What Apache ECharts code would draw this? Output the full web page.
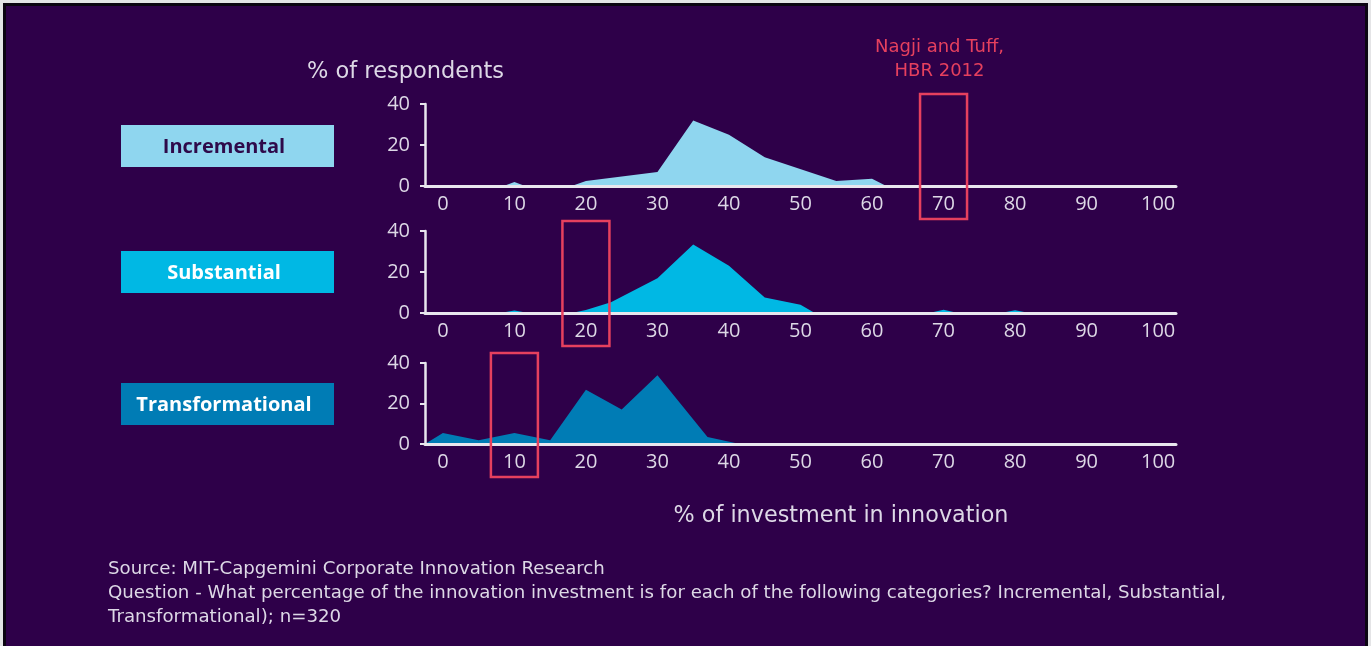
<!DOCTYPE html>
<html>
<head>
<meta charset="utf-8">
<script src="https://cdn.jsdelivr.net/npm/echarts@6/dist/echarts.min.js"></script>
<style>
  html, body { margin: 0; padding: 0; background: #e4e4e6; width: 1371px; height: 646px; overflow: hidden; }
  #frame { position: absolute; left: 3px; top: 3px; width: 1359px; height: 660px; background: #2e0049; border: 3px solid #0c0512; }
  #chart { position: absolute; left: 0; top: 0; width: 1371px; height: 646px; }
</style>
</head>
<body>
<div id="frame"></div>
<div id="chart"></div>
<script>
// ---------- data ----------
const xTicks = [0, 10, 20, 30, 40, 50, 60, 70, 80, 90, 100];
const yTicks = [0, 20, 40];
const categories = ['Incremental', 'Substantial', 'Transformational'];

const incrementalX = [-2.5, 8.5, 10, 11.5, 18, 20, 30, 35, 40, 45, 55, 60, 62, 102.5];
const incrementalY = [0, 0, 2, 0, 0, 2.4, 6.8, 32, 25, 14, 2.4, 3.5, 0, 0];

const substantialX = [-2.5, 8, 10, 12, 18, 20, 23.5, 30, 35, 40, 45, 50, 52, 58.5, 60, 61.5, 68, 70, 72, 78, 80, 82, 102.5];
const substantialY = [0, 0, 1.2, 0, 0, 1.5, 5.3, 17, 33.4, 23, 7.6, 4, 0, 0, 0.5, 0, 0, 1.6, 0, 0, 1.3, 0, 0];

const transformationalX = [-2.5, 0, 5, 10, 15, 20, 25, 30, 37, 41.5, 102.5];
const transformationalY = [0, 5.4, 1.8, 5.4, 1.8, 26.8, 17, 33.9, 3.5, 0, 0];

const highlightValues = [70, 20, 10];
const annotationText = 'Nagji and Tuff,\nHBR 2012';
const yAxisTitle = '% of respondents';
const xAxisTitle = '% of investment in innovation';
const sourceLines = [
  'Source: MIT-Capgemini Corporate Innovation Research',
  'Question - What percentage of the innovation investment is for each of the following categories? Incremental, Substantial,',
  'Transformational); n=320'
];

// ---------- styles ----------
const FONT = '"Open Sans", "Noto Sans", sans-serif';
const WFONT = '"DejaVu Sans", "Open Sans", sans-serif';
const TEXT = '#ddd8e6';
const AXIS = '#e8e6ee';
const RED = '#e6405e';
const colors = ['#8fd6ef', '#00b8e4', '#007cb5'];
const labelText = ['#2e0a4a', '#ffffff', '#ffffff'];
const grids = [
  { left: 425, width: 751, top: 104, height: 82 },
  { left: 425, width: 751, top: 231, height: 82 },
  { left: 425, width: 751, top: 363, height: 81 }
];
const labelBoxCenters = [146, 272, 404];

const seriesX = [incrementalX, substantialX, transformationalX];
const seriesY = [incrementalY, substantialY, transformationalY];

const chart = echarts.init(document.getElementById('chart'), null, { renderer: 'canvas' });

const option = {
  backgroundColor: 'transparent',
  animation: false,
  grid: grids,
  xAxis: grids.map((g, i) => ({
    type: 'value', gridIndex: i, min: -2.5, max: 102.5, z: 5,
    axisLine: { show: true, onZero: true, lineStyle: { color: AXIS, width: 3 } },
    axisTick: { show: false },
    splitLine: { show: false },
    axisLabel: { customValues: xTicks, color: TEXT, fontSize: 20, fontFamily: FONT, margin: 8 }
  })),
  yAxis: grids.map((g, i) => ({
    type: 'value', gridIndex: i, min: 0, max: 40, interval: 20, z: 5,
    axisLine: { show: true, onZero: false, lineStyle: { color: AXIS, width: 2.5 } },
    axisTick: { show: true, length: 5, lineStyle: { color: AXIS, width: 2 } },
    splitLine: { show: false },
    axisLabel: { customValues: yTicks, color: TEXT, fontSize: 20, fontFamily: FONT, margin: 15 }
  })),
  series: categories.map((name, i) => ({
    name, type: 'line', xAxisIndex: i, yAxisIndex: i, z: 2,
    symbol: 'none', silent: true,
    lineStyle: { width: 0, color: colors[i] },
    itemStyle: { color: colors[i] },
    areaStyle: { color: colors[i], opacity: 1 },
    data: seriesX[i].map((x, k) => [x, seriesY[i][k]])
  }))
};
chart.setOption(option);

// ---------- graphics (annotations, labels, texts) ----------
const graphics = [];

categories.forEach((name, i) => {
  graphics.push({
    type: 'rect', left: 121, top: labelBoxCenters[i] - 21,
    shape: { width: 213, height: 42 }, style: { fill: colors[i] }, silent: true
  });
  graphics.push({
    type: 'text', x: 224, y: labelBoxCenters[i] + 1,
    style: { text: name, fill: labelText[i], font: 'bold 20px ' + FONT, textAlign: 'center', textVerticalAlign: 'middle' },
    silent: true
  });
});

highlightValues.forEach((v, i) => {
  const top = chart.convertToPixel({ gridIndex: i }, [v, 40]);
  const bot = chart.convertToPixel({ gridIndex: i }, [v, 0]);
  const x0 = top[0] - 23.5;
  const y0 = top[1] - 10;
  const y1 = bot[1] + 33;
  graphics.push({
    type: 'rect', z: 20, silent: true,
    shape: { x: x0, y: y0, width: 47, height: y1 - y0 },
    style: { fill: 'none', stroke: RED, lineWidth: 2.5 }
  });
  if (i === 0) {
    graphics.push({
      type: 'text', z: 20, silent: true, x: top[0] - 4, y: y0 - 35,
      style: { text: annotationText, fill: RED, font: '18px ' + WFONT, textAlign: 'center', textVerticalAlign: 'middle', lineHeight: 24 }
    });
  }
});

graphics.push({
  type: 'text', x: 307, y: 72, silent: true,
  style: { text: yAxisTitle, fill: TEXT, font: '22.5px ' + WFONT, textAlign: 'left', textVerticalAlign: 'middle' }
});
graphics.push({
  type: 'text', x: 841, y: 516, silent: true,
  style: { text: xAxisTitle, fill: TEXT, font: '22.3px ' + WFONT, textAlign: 'center', textVerticalAlign: 'middle' }
});
sourceLines.forEach((t, k) => {
  graphics.push({
    type: 'text', x: 108, y: 569 + k * 24, silent: true,
    style: { text: t, fill: TEXT, font: '18.2px ' + WFONT, textAlign: 'left', textVerticalAlign: 'middle' }
  });
});

chart.setOption({ graphic: graphics });
</script>
</body>
</html>
